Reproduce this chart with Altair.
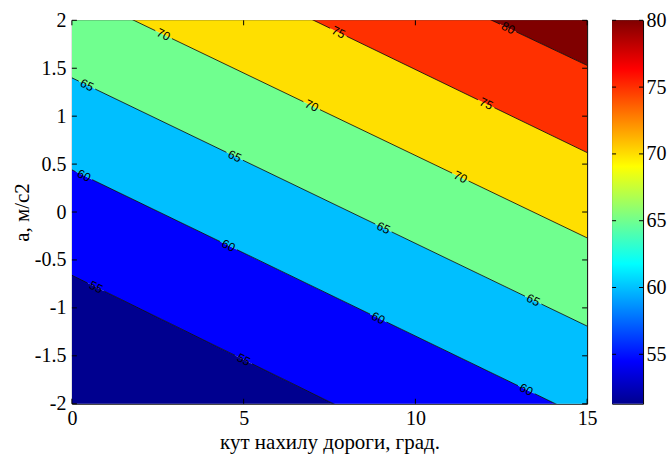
import math
import pandas as pd
import altair as alt

# contour levels and the acceleration at which each contour line meets x = 0 and x = 15
levels = [55, 60, 65, 70, 75, 80]
a_at_x0 = [-0.66, 0.44, 1.40, 2.31, 3.22, 4.07]
a_at_x15 = [-3.30, -2.16, -1.19, -0.27, 0.62, 1.53]

# fill colour of each band, lowest band (below 55) first (jet colormap)
band_colors = ["#00008F", "#0000FF", "#00BFFF", "#70FF8F", "#FFDF00", "#FF3000", "#800000"]

# inline contour labels: level and x position along that level's line
label_levels = [55, 55, 60, 60, 60, 60, 65, 65, 65, 65, 70, 70, 70, 75, 75, 80]
label_x = [0.70, 5.00, 0.35, 4.56, 8.92, 13.23, 0.44, 4.74, 9.07, 13.43,
           2.67, 6.98, 11.31, 7.76, 12.06, 12.70]

x_ticks = [0, 5, 10, 15]
a_ticks = [-2, -1.5, -1, -0.5, 0, 0.5, 1, 1.5, 2]
cbar_ticks = [55, 60, 65, 70, 75, 80]
cbar_min, cbar_max = 51.3, 80.0
jet_offsets = [0.0, 0.111, 0.365, 0.619, 0.873, 1.0]
jet_colors = ["#00008F", "#0000FF", "#00FFFF", "#FFFF00", "#FF0000", "#800000"]

X_MIN, X_MAX = 0, 15
A_MIN, A_MAX = -2, 2
W, H = 516, 384
CB_W = 31
TICK = 5
SERIF = "Liberation Serif"
LABEL_SIZE = 20
TITLE_SIZE = 21
GAP = 0.24

label_style = dict(labelFont=SERIF, labelFontSize=LABEL_SIZE, labelColor="black", labelFlush=False,
                   ticks=False, domain=False, grid=False)
title_style = dict(titleFont=SERIF, titleFontSize=TITLE_SIZE, titleFontWeight="normal",
                   titleColor="black")


def line_a(level, x):
    i = levels.index(level)
    return a_at_x0[i] + (a_at_x15[i] - a_at_x0[i]) * (x - X_MIN) / (X_MAX - X_MIN)


xscale = alt.Scale(domain=[X_MIN, X_MAX], nice=False, zero=False)
yscale = alt.Scale(domain=[A_MIN, A_MAX], nice=False, zero=False)
x_axis = alt.Axis(values=x_ticks, title="кут нахилу дороги, град.", labelExpr="'' + datum.value",
                  labelPadding=5, titlePadding=3, **label_style, **title_style)
y_axis = alt.Axis(values=a_ticks, title="a, м/с2", labelExpr="'' + datum.value",
                  labelPadding=6, titlePadding=2, **label_style, **title_style)

# filled bands between neighbouring contour lines (outer bands run past the frame)
edges0 = [A_MIN - 3] + a_at_x0 + [A_MAX + 4]
edges15 = [A_MIN - 3] + a_at_x15 + [A_MAX + 4]
band_rows = []
for k, col in enumerate(band_colors):
    for x, edges in ((X_MIN, edges0), (X_MAX, edges15)):
        band_rows.append({"band": k, "fill": col, "x": x, "a": edges[k], "a_hi": edges[k + 1]})
bands_df = pd.DataFrame(band_rows)

# contour lines, broken where a label sits
seg_rows = []
for lev in levels:
    cuts = sorted(x for l, x in zip(label_levels, label_x) if l == lev)
    pieces, start = [], X_MIN
    for cx in cuts:
        pieces.append((start, cx - GAP))
        start = cx + GAP
    pieces.append((start, X_MAX))
    for j, (x0, x1) in enumerate(pieces):
        for x in (x0, x1):
            seg_rows.append({"seg": f"{lev}-{j}", "x": x, "a": line_a(lev, x)})
lines_df = pd.DataFrame(seg_rows)

lab_rows = []
for lev, x in zip(label_levels, label_x):
    i = levels.index(lev)
    slope_px = (a_at_x0[i] - a_at_x15[i]) / (A_MAX - A_MIN) * H / W
    lab_rows.append({"text": str(lev), "x": x, "a": line_a(lev, x),
                     "ang": math.degrees(math.atan(slope_px))})
labels_df = pd.DataFrame(lab_rows)

X = alt.X("x:Q", scale=xscale, axis=x_axis)
Y = alt.Y("a:Q", scale=yscale, axis=y_axis, stack=None)

bands = alt.Chart(bands_df).mark_area(clip=True, strokeWidth=0).encode(
    x=X, y=Y, y2="a_hi:Q",
    color=alt.Color("fill:N", scale=None),
    detail="band:N",
)

lines = alt.Chart(lines_df).mark_line(clip=True, color="black", strokeWidth=0.8).encode(
    x=X, y=Y, detail="seg:N",
)

labels = alt.Chart(labels_df).mark_text(font="Liberation Sans", fontSize=12, color="black",
                                        align="center", baseline="middle").encode(
    x=X, y=Y, text="text:N",
    angle=alt.Angle("ang:Q", scale=None),
)

# inward tick marks on all four sides
xt = pd.DataFrame({"x": x_ticks})
at = pd.DataFrame({"a": a_ticks})
ticks_bottom = alt.Chart(xt).mark_rule(color="black").encode(x=X, y=alt.value(H), y2=alt.value(H - TICK))
ticks_top = alt.Chart(xt).mark_rule(color="black").encode(x=X, y=alt.value(0), y2=alt.value(TICK))
ticks_left = alt.Chart(at).mark_rule(color="black").encode(y=Y, x=alt.value(0), x2=alt.value(TICK))
ticks_right = alt.Chart(at).mark_rule(color="black").encode(y=Y, x=alt.value(W), x2=alt.value(W - TICK))

main = alt.layer(bands, lines, labels, ticks_bottom, ticks_top, ticks_left, ticks_right).properties(
    width=W, height=H)

# colour bar
cscale = alt.Scale(domain=[cbar_min, cbar_max], nice=False, zero=False)
CY = alt.Y("v:Q", scale=cscale, axis=alt.Axis(orient="right", values=cbar_ticks, title=None,
                                              labelPadding=3, **label_style))
jet = alt.Gradient(gradient="linear", x1=0, y1=1, x2=0, y2=0,
                   stops=[alt.GradientStop(color=c, offset=o) for c, o in zip(jet_colors, jet_offsets)])
cbar_df = pd.DataFrame({"v": [cbar_min], "v_hi": [cbar_max]})
cbar_rect = alt.Chart(cbar_df).mark_rect(fill=jet).encode(
    y=CY, y2="v_hi:Q", x=alt.value(0), x2=alt.value(CB_W),
)
ct = pd.DataFrame({"v": cbar_ticks})
cticks_l = alt.Chart(ct).mark_rule(color="black").encode(y=CY, x=alt.value(0), x2=alt.value(4))
cticks_r = alt.Chart(ct).mark_rule(color="black").encode(y=CY, x=alt.value(CB_W), x2=alt.value(CB_W - 4))
cbar = alt.layer(cbar_rect, cticks_l, cticks_r).properties(width=CB_W, height=H)

# the "15" label overhangs the main panel by half its width, so the spacing is reduced by that
chart = alt.hconcat(main, cbar, spacing=13).properties(
    padding={"left": 10, "top": 9, "right": 0, "bottom": 0},
    background="white",
).configure_view(
    stroke="black", strokeWidth=1
).configure_axis(
    labelFont=SERIF, titleFont=SERIF
)

chart.save("out.html", embed_options={"renderer": "svg", "actions": False})
